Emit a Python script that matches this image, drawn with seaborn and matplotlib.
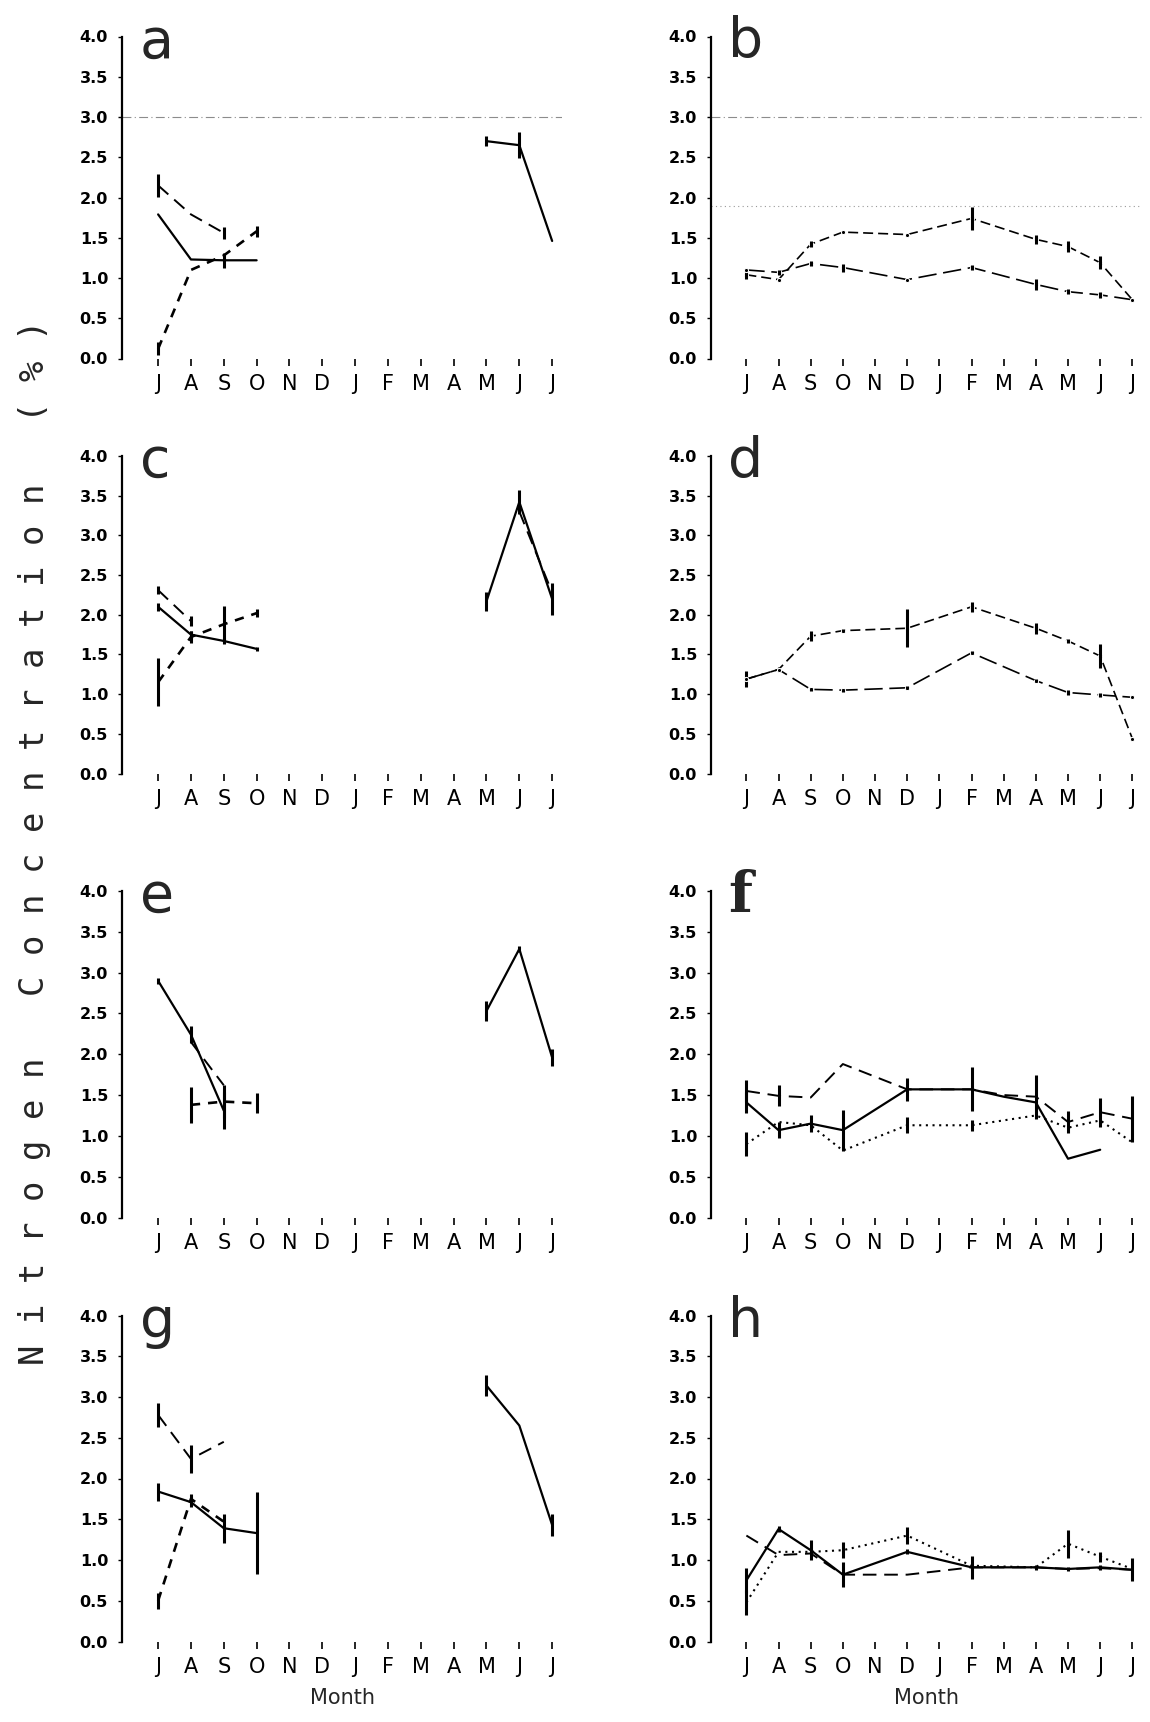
import numpy as np
import pandas as pd
import matplotlib
matplotlib.use("Agg")
import matplotlib.pyplot as plt
import seaborn as sns

nan = np.nan

# ---------------- data ----------------
MONTHS = ["J", "A", "S", "O", "N", "D", "J", "F", "M", "A", "M", "J", "J"]
Y_TICKS = [0.0, 0.5, 1.0, 1.5, 2.0, 2.5, 3.0, 3.5, 4.0]
Y_TICK_LABELS = ["0.0", "0.5", "1.0", "1.5", "2.0", "2.5", "3.0", "3.5", "4.0"]
Y_LABEL = "Nitrogen Concentration (%)"
X_LABEL = "Month"

# panel a
A_SOLID = [1.79, 1.23, 1.22, 1.22, nan, nan, nan, nan, nan, nan, 2.70, 2.65, 1.46]
A_SOLID_ERR = [0, 0, 0.09, 0, 0, 0, 0, 0, 0, 0, 0.06, 0.16, 0]
A_LONG = [2.15, 1.79, 1.56, nan, nan, nan, nan, nan, nan, nan, nan, nan, nan]
A_LONG_ERR = [0.14, 0, 0.07, 0, 0, 0, 0, 0, 0, 0, 0, 0, 0]
A_SHORT = [0.12, 1.10, 1.28, 1.58, nan, nan, nan, nan, nan, nan, nan, nan, nan]
A_SHORT_ERR = [0.08, 0, 0, 0.07, 0, 0, 0, 0, 0, 0, 0, 0, 0]

# panel b
B_UP = [1.04, 0.98, 1.42, 1.57, nan, 1.54, nan, 1.74, nan, 1.48, 1.39, 1.19, 0.73]
B_UP_ERR = [0.05, 0, 0.04, 0, 0, 0, 0, 0.14, 0, 0.06, 0.07, 0.08, 0]
B_LOW = [1.10, 1.07, 1.18, 1.13, nan, 0.98, nan, 1.13, nan, 0.92, 0.83, 0.79, 0.73]
B_LOW_ERR = [0, 0.03, 0.03, 0.05, 0, 0, 0, 0.03, 0, 0.07, 0.03, 0.04, 0]

# panel c
C_SOLID = [2.10, 1.75, 1.67, 1.57, nan, nan, nan, nan, nan, nan, 2.17, 3.42, 2.20]
C_SOLID_ERR = [0.05, 0.05, 0.04, 0.03, 0, 0, 0, 0, 0, 0, 0.12, 0.15, 0.2]
C_LONG = [2.31, 1.92, nan, nan, nan, nan, nan, nan, nan, nan, nan, 3.30, 2.28]
C_LONG_ERR = [0.05, 0.06, 0, 0, 0, 0, 0, 0, 0, 0, 0, 0, 0]
C_SHORT = [1.15, 1.72, 1.88, 2.02, nan, nan, nan, nan, nan, nan, nan, nan, nan]
C_SHORT_ERR = [0.3, 0.08, 0.23, 0.05, 0, 0, 0, 0, 0, 0, 0, 0, 0]

# panel d
D_UP = [1.19, 1.31, 1.73, 1.80, nan, 1.83, nan, 2.10, nan, 1.83, 1.67, 1.48, 0.44]
D_UP_ERR = [0.1, 0.03, 0.06, 0.02, 0, 0.24, 0, 0.06, 0, 0.07, 0.02, 0.15, 0]
D_LOW = [1.19, 1.31, 1.06, 1.05, nan, 1.08, nan, 1.52, nan, 1.17, 1.02, 0.99, 0.96]
D_LOW_ERR = [0, 0, 0.02, 0.02, 0, 0.02, 0, 0.02, 0, 0.02, 0.03, 0.02, 0]

# panel e
E_SOLID = [2.90, 2.24, 1.31, nan, nan, nan, nan, nan, nan, nan, 2.53, 3.29, 1.96]
E_SOLID_ERR = [0.04, 0.1, 0.23, 0, 0, 0, 0, 0, 0, 0, 0.12, 0.04, 0.1]
E_LONG = [nan, 2.15, 1.62, nan, nan, nan, nan, nan, nan, nan, nan, nan, nan]
E_LONG_ERR = [0] * 13
E_SHORT = [nan, 1.38, 1.42, 1.40, nan, nan, nan, nan, nan, nan, nan, nan, nan]
E_SHORT_ERR = [0, 0.22, 0.2, 0.12, 0, 0, 0, 0, 0, 0, 0, 0, 0]

# panel f
F_LONG = [1.55, 1.49, 1.47, 1.88, nan, 1.57, nan, 1.57, 1.50, 1.48, 1.17, 1.29, 1.21]
F_LONG_ERR = [0.13, 0.13, 0, 0, 0, 0.14, 0, 0.27, 0, 0.27, 0.14, 0.18, 0.28]
F_SOLID = [1.41, 1.07, 1.15, 1.07, nan, 1.57, nan, 1.57, 1.48, 1.41, 0.72, 0.83, nan]
F_SOLID_ERR = [0.13, 0.1, 0.1, 0.25, 0, 0, 0, 0, 0, 0, 0, 0, 0]
F_DOT = [0.90, 1.17, 1.13, 0.82, nan, 1.13, nan, 1.13, nan, 1.25, 1.10, 1.19, 0.92]
F_DOT_ERR = [0.15, 0, 0, 0, 0, 0.1, 0, 0.07, 0, 0, 0, 0, 0]

# panel g
G_SOLID = [1.84, 1.71, 1.39, 1.33, nan, nan, nan, nan, nan, nan, 3.14, 2.65, 1.43]
G_SOLID_ERR = [0.11, 0.06, 0.18, 0.5, 0, 0, 0, 0, 0, 0, 0.13, 0, 0.13]
G_LONG = [2.78, 2.24, 2.45, nan, nan, nan, nan, nan, nan, nan, nan, nan, nan]
G_LONG_ERR = [0.15, 0.17, 0, 0, 0, 0, 0, 0, 0, 0, 0, 0, 0]
G_SHORT = [0.50, 1.75, 1.47, nan, nan, nan, nan, nan, nan, nan, nan, nan, nan]
G_SHORT_ERR = [0.1, 0.06, 0, 0, 0, 0, 0, 0, 0, 0, 0, 0, 0]

# panel h
H_SOLID = [0.75, 1.38, 1.12, 0.82, nan, 1.10, nan, 0.91, nan, 0.91, 0.89, 0.91, 0.88]
H_SOLID_ERR = [0.15, 0.04, 0.12, 0.15, 0, 0.03, 0, 0.14, 0, 0.03, 0.03, 0.03, 0.14]
H_LONG = [1.30, 1.06, 1.08, 0.82, nan, 0.82, nan, 0.91, nan, 0.91, 0.89, 0.90, 0.88]
H_LONG_ERR = [0] * 13
H_DOT = [0.48, 1.10, 1.10, 1.12, nan, 1.30, nan, 0.93, nan, 0.91, 1.20, 1.04, 0.89]
H_DOT_ERR = [0.15, 0, 0, 0.1, 0, 0.1, 0, 0, 0, 0, 0.17, 0.06, 0]

# ---------------- styles ----------------
STY_SOLID = dict(linestyle="-", lw=1.6)
STY_LONG = dict(linestyle=(0, (7, 4)), lw=1.4)
STY_SHORT = dict(linestyle=(0, (3.5, 3)), lw=1.9)
STY_DOT = dict(linestyle=(0, (1, 2.2)), lw=1.5)
STY_B1 = dict(linestyle=(0, (6, 3)), lw=1.2, marker="o", markersize=3)
STY_B2 = dict(linestyle=(0, (11, 4)), lw=1.2, marker="o", markersize=3)

PANELS = {
    "a": ([(A_SOLID, A_SOLID_ERR, STY_SOLID), (A_LONG, A_LONG_ERR, STY_LONG),
           (A_SHORT, A_SHORT_ERR, STY_SHORT)], False),
    "b": ([(B_UP, B_UP_ERR, STY_B1), (B_LOW, B_LOW_ERR, STY_B2)], True),
    "c": ([(C_SOLID, C_SOLID_ERR, STY_SOLID), (C_LONG, C_LONG_ERR, STY_LONG),
           (C_SHORT, C_SHORT_ERR, STY_SHORT)], False),
    "d": ([(D_UP, D_UP_ERR, STY_B1), (D_LOW, D_LOW_ERR, STY_B2)], True),
    "e": ([(E_SOLID, E_SOLID_ERR, STY_SOLID), (E_LONG, E_LONG_ERR, STY_LONG),
           (E_SHORT, E_SHORT_ERR, STY_SHORT)], False),
    "f": ([(F_LONG, F_LONG_ERR, STY_LONG), (F_SOLID, F_SOLID_ERR, STY_SOLID),
           (F_DOT, F_DOT_ERR, STY_DOT)], True),
    "g": ([(G_SOLID, G_SOLID_ERR, STY_SOLID), (G_LONG, G_LONG_ERR, STY_LONG),
           (G_SHORT, G_SHORT_ERR, STY_SHORT)], False),
    "h": ([(H_SOLID, H_SOLID_ERR, STY_SOLID), (H_LONG, H_LONG_ERR, STY_LONG),
           (H_DOT, H_DOT_ERR, STY_DOT)], True),
}

# ---------------- figure ----------------
sns.set_theme(style="white")
plt.rcParams["font.family"] = ["DejaVu Sans"]

W, H = 1150, 1722
fig = plt.figure(figsize=(W / 100, H / 100), dpi=100)
fig.patch.set_facecolor("white")

COLS = {0: (122, 440), 1: (711, 431)}
ROWS = [(36.5, 358.5), (456, 773.5), (891, 1217.5), (1315.5, 1641.5)]
ORDER = [["a", "b"], ["c", "d"], ["e", "f"], ["g", "h"]]


def draw_series(ax, vals, errs, sty, connect):
    df = pd.DataFrame({"month": np.arange(len(vals), dtype=float),
                       "n": np.array(vals, dtype=float),
                       "err": np.array(errs, dtype=float)})
    df["seg"] = df["n"].isna().cumsum()
    d = df.dropna(subset=["n"])
    if connect:
        sns.lineplot(data=d, x="month", y="n", ax=ax, color="black",
                     estimator=None, sort=False, **sty)
    else:
        sns.lineplot(data=d, x="month", y="n", units="seg", ax=ax,
                     color="black", estimator=None, sort=False, **sty)
    e = d[d["err"] > 0]
    if len(e):
        ax.errorbar(e["month"], e["n"], yerr=e["err"], fmt="none",
                    ecolor="black", elinewidth=2.2, capsize=0)


for r, row in enumerate(ORDER):
    top, bot = ROWS[r]
    for c, key in enumerate(row):
        left, width = COLS[c]
        ax = fig.add_axes([left / W, 1 - bot / H, width / W, (bot - top) / H])
        series, connect = PANELS[key]
        for vals, errs, sty in series:
            draw_series(ax, vals, errs, sty, connect)
        ax.set_xlim(-1.1, 12.3)
        ax.set_ylim(0, 4)
        ax.set_xticks(range(len(MONTHS)))
        ax.set_xticklabels(MONTHS, fontsize=15)
        ax.set_yticks(Y_TICKS)
        ax.set_yticklabels(Y_TICK_LABELS, fontsize=11.5, fontweight="bold")
        for s in ["top", "right", "bottom"]:
            ax.spines[s].set_visible(False)
        ax.spines["left"].set_linewidth(1.6)
        ax.spines["left"].set_color("black")
        ax.tick_params(axis="x", bottom=True, direction="out", length=5,
                       width=1.2, pad=6, colors="black")
        ax.tick_params(axis="y", left=True, direction="out", length=3,
                       width=1.0, pad=7, colors="black")
        ax.set_ylabel("")
        if r == 3:
            ax.set_xlabel(X_LABEL, fontsize=15, labelpad=8)
        else:
            ax.set_xlabel("")
        if key == "f":
            ax.text(0.04, 0.935, key, transform=ax.transAxes, fontsize=40,
                    family="DejaVu Serif", fontweight="bold", va="baseline",
                    ha="left")
        else:
            ax.text(0.04, 0.935, key, transform=ax.transAxes, fontsize=40,
                    va="baseline", ha="left")
        ax.set_facecolor("white")
        # faint reference lines visible in the scan
        if key in ("a", "b"):
            ax.axhline(3.0, color="0.55", lw=0.8, ls=(0, (8, 3, 1, 3)),
                       zorder=0)
        if key == "b":
            ax.axhline(1.9, color="0.6", lw=0.8, ls=(0, (1, 3)), zorder=0)

spaced = " ".join(Y_LABEL)
fig.text(0.030, 0.511, spaced, rotation=90, va="center", ha="center",
         fontsize=24.5, family="DejaVu Sans Mono", color="0.15")

fig.savefig("out.png", dpi=100, facecolor="white")
